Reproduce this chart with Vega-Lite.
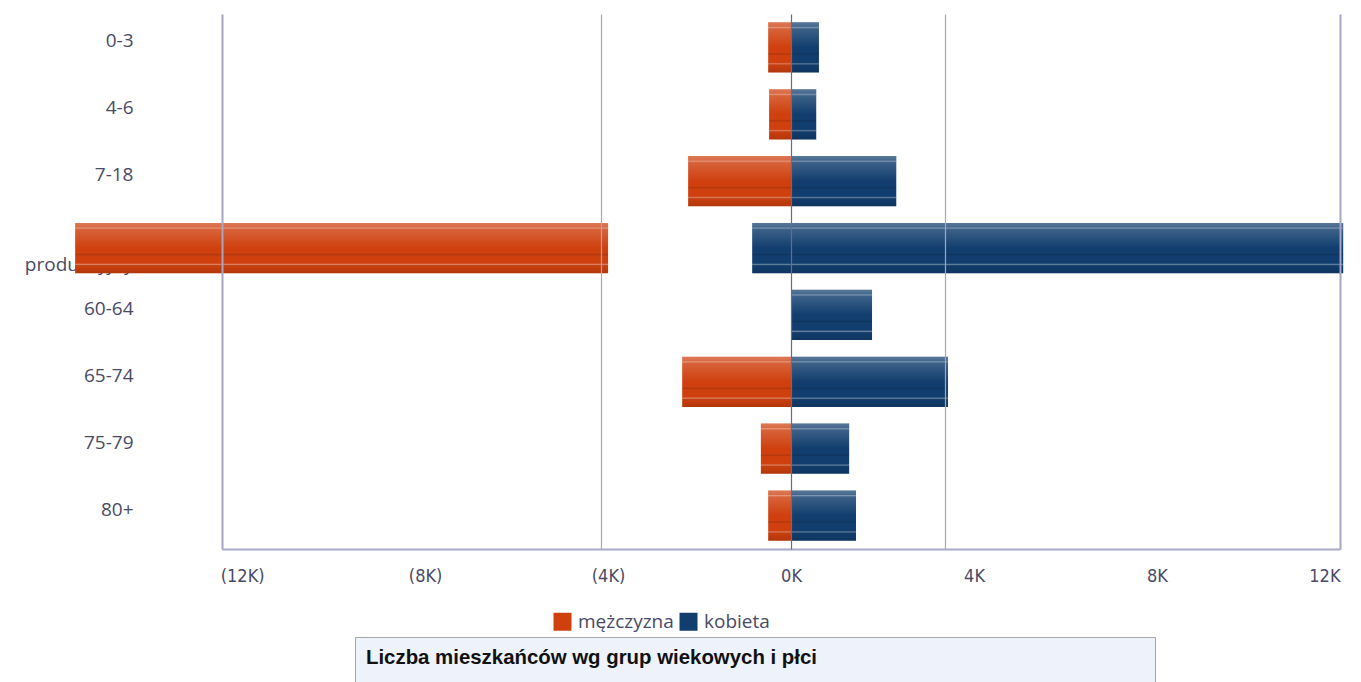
{
  "$schema": "https://vega.github.io/schema/vega-lite/v6.json",
  "padding": {"left": 24, "top": 14, "right": 0, "bottom": 0},
  "background": "white",
  "config": {"view": {"stroke": null}, "font": "Open Sans"},
  "bounds": "flush",
  "center": false,
  "spacing": 88,
  "resolve": {"legend": {"color": "independent"}},
  "vconcat": [
    {
      "width": 1118,
      "height": 535,
      "data": {
        "values": [
          {"group": "0-3", "sex": "mężczyzna", "start": 0, "end": -500},
          {"group": "0-3", "sex": "kobieta", "start": 0, "end": 610},
          {"group": "4-6", "sex": "mężczyzna", "start": 0, "end": -480},
          {"group": "4-6", "sex": "kobieta", "start": 0, "end": 550},
          {"group": "7-18", "sex": "mężczyzna", "start": 0, "end": -2250},
          {"group": "7-18", "sex": "kobieta", "start": 0, "end": 2300},
          {"group": "wiek produkcyjny", "sex": "mężczyzna", "start": -4000, "end": -15650},
          {"group": "wiek produkcyjny", "sex": "kobieta", "start": -850, "end": 12070},
          {"group": "60-64", "sex": "mężczyzna", "start": 0, "end": 0},
          {"group": "60-64", "sex": "kobieta", "start": 0, "end": 1770},
          {"group": "65-74", "sex": "mężczyzna", "start": 0, "end": -2380},
          {"group": "65-74", "sex": "kobieta", "start": 0, "end": 3430},
          {"group": "75-79", "sex": "mężczyzna", "start": 0, "end": -660},
          {"group": "75-79", "sex": "kobieta", "start": 0, "end": 1270},
          {"group": "80+", "sex": "mężczyzna", "start": 0, "end": -500},
          {"group": "80+", "sex": "kobieta", "start": 0, "end": 1420}
        ]
      },
      "encoding": {
        "y": {
          "field": "group",
          "type": "nominal",
          "sort": ["0-3", "4-6", "7-18", "wiek produkcyjny", "60-64", "65-74", "75-79", "80+"],
          "scale": {"paddingInner": 0.25, "paddingOuter": 0.125},
          "axis": {
            "title": null,
            "orient": "left",
            "ticks": false,
            "domain": false,
            "labelFont": "Open Sans",
            "labelFontSize": 19,
            "labelColor": "#4a4a66",
            "labelPadding": 89,
            "labelOffset": {"condition": {"test": "datum.value == 'wiek produkcyjny'", "value": -15}, "value": -6},
            "labelLineHeight": 32,
            "labelLimit": 300,
            "labelExpr": "split(datum.label, ' ')",
            "zindex": 0
          }
        },
        "x2": {"field": "end"}
      },
      "layer": [
        {
          "mark": {"type": "bar"},
          "encoding": {
            "x": {
              "field": "start",
              "type": "quantitative",
              "scale": {"domain": [-12440, 12000], "nice": false, "zero": false},
              "axis": {
                "title": null,
                "orient": "bottom",
                "grid": false,
                "ticks": false,
                "domain": true,
                "domainColor": "#a8aac8",
                "domainWidth": 2,
                "values": [-12000, -8000, -4000, 0, 4000, 8000, 12000],
                "labelExpr": "datum.value < 0 ? '(' + format(-datum.value / 1000, 'd') + 'K)' : format(datum.value / 1000, 'd') + 'K'",
                "labelFont": "DejaVu Sans Condensed, Liberation Sans Narrow, Open Sans",
                "labelFontSize": 18,
                "labelColor": "#4a4a66",
                "labelPadding": 18
              }
            },
            "color": {
              "field": "sex",
              "type": "nominal",
              "scale": {"domain": ["mężczyzna", "kobieta"], "range": ["#cf400e", "#113e6e"]},
              "legend": {
                "title": null,
                "orient": "none",
                "legendX": 331,
                "legendY": 598,
                "direction": "horizontal",
                "symbolType": "square",
                "symbolSize": 324,
                "symbolStrokeWidth": 0,
                "labelFont": "Open Sans",
                "labelFontSize": 19,
                "labelColor": "#4a4a66",
                "labelOffset": 6,
                "columnPadding": 5
              }
            }
          }
        },
        {
          "mark": {
            "type": "bar",
            "fill": {
              "gradient": "linear",
              "x1": 0, "y1": 0, "x2": 0, "y2": 1,
              "stops": [
                {"offset": 0, "color": "rgba(255,255,255,0.30)"},
                {"offset": 0.08, "color": "rgba(255,255,255,0.22)"},
                {"offset": 0.10, "color": "rgba(255,255,255,0.45)"},
                {"offset": 0.13, "color": "rgba(255,255,255,0.18)"},
                {"offset": 0.5, "color": "rgba(255,255,255,0.0)"},
                {"offset": 0.6, "color": "rgba(0,0,0,0.0)"},
                {"offset": 0.63, "color": "rgba(0,0,0,0.14)"},
                {"offset": 0.66, "color": "rgba(0,0,0,0.0)"},
                {"offset": 0.80, "color": "rgba(255,255,255,0.0)"},
                {"offset": 0.83, "color": "rgba(255,255,255,0.35)"},
                {"offset": 0.86, "color": "rgba(0,0,0,0.03)"},
                {"offset": 1, "color": "rgba(0,0,0,0.14)"}
              ]
            }
          },
          "encoding": {
            "x": {
              "field": "start",
              "type": "quantitative",
              "scale": {"domain": [-12440, 12000], "nice": false, "zero": false},
              "axis": {
                "title": null,
                "orient": "top",
                "labels": false,
                "ticks": false,
                "domain": false,
                "grid": true,
                "values": [-12440, -4150, 0, 3370, 12000],
                "gridColor": {"condition": {"test": "datum.value === 0", "value": "#6a6a8c"}, "value": "#a4a6c4"},
                "gridWidth": {"condition": {"test": "datum.value === -12440 || datum.value === 12000", "value": 2}, "value": 1.2},
                "zindex": 1
              }
            }
          }
        }
      ],
      "resolve": {"axis": {"x": "independent"}}
    },
    {
      "bounds": "flush",
      "spacing": 20,
      "hconcat": [
        {
          "width": 113,
          "height": 50,
          "data": {"values": [{}]},
          "mark": {"type": "text"},
          "encoding": {"text": {"value": ""}}
        },
        {
          "width": 800,
          "height": 50,
          "view": {"fill": "#eef2fa", "stroke": "#a6a6a6", "strokeWidth": 1},
          "title": {
            "text": "Liczba mieszkańców wg grup wiekowych i płci",
            "anchor": "start",
            "frame": "group",
            "dx": 11,
            "offset": -31,
            "font": "Liberation Sans",
            "fontSize": 20.4,
            "fontWeight": "bold",
            "color": "#111111"
          },
          "data": {"values": [{}]},
          "mark": {"type": "text"},
          "encoding": {"text": {"value": ""}}
        }
      ]
    }
  ]
}
